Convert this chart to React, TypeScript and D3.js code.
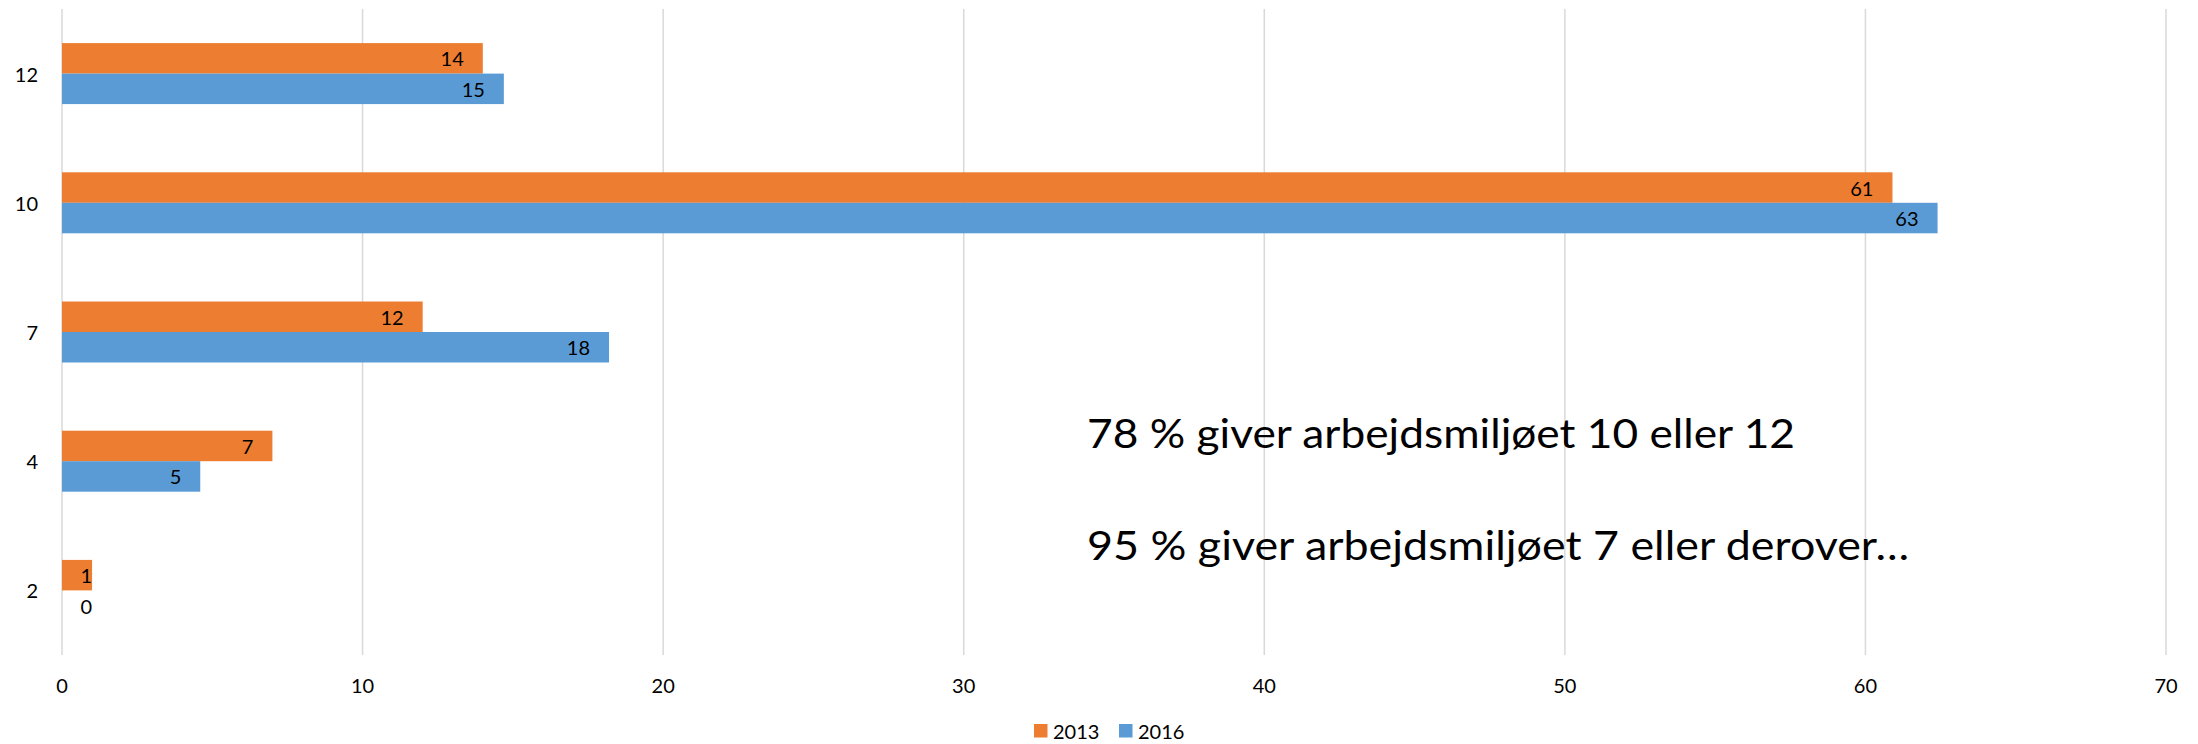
import * as d3 from "d3";
import React from "react";

// categories top to bottom, as in the chart
const categories = ["12", "10", "7", "4", "2"];
const seriesNames = ["2013", "2016"];
const values2013 = [14, 60.9, 12, 7, 1];
const values2016 = [14.7, 62.4, 18.2, 4.6, 0];
const labels2013 = ["14", "61", "12", "7", "1"];
const labels2016 = ["15", "63", "18", "5", "0"];
const xTicks = [0, 10, 20, 30, 40, 50, 60, 70];
const notes = ["78 % giver arbejdsmiljøet 10 eller 12", "95 % giver arbejdsmiljøet 7 eller derover…"];

const colors = ["#ED7D31", "#5B9BD5"];
const W = 2198;
const H = 744;
const font = "Lato, 'Open Sans', sans-serif";

export default function App() {
  const x = d3.scaleLinear().domain([0, 70]).range([62, 2166]);
  const y = d3.scaleBand().domain(categories).range([9, 655]).paddingInner(0.528).paddingOuter(0.264);
  const inner = d3.scaleBand().domain(seriesNames).range([0, y.bandwidth()]);

  const series = [
    { name: "2013", values: values2013, labels: labels2013 },
    { name: "2016", values: values2016, labels: labels2016 },
  ];

  return (
    <svg width={W} height={H} style={{ position: "absolute", left: 0, top: 0, background: "#fff" }} fontFamily={font}>
      {/* grid */}
      {xTicks.map((t) => (
        <line key={"g" + t} x1={x(t)} x2={x(t)} y1={9} y2={655} stroke="#d9d9d9" strokeWidth={1.5} />
      ))}
      {/* bars */}
      {series.map((s, si) =>
        categories.map((c, i) => {
          const yy = (y(c) as number) + (inner(s.name) as number);
          const end = x(s.values[i]);
          const lx = Math.max(end - 19, x(0) + 30);
          return (
            <g key={s.name + c}>
              <rect x={x(0)} y={yy} width={end - x(0)} height={inner.bandwidth()} fill={colors[si]} />
              <text x={lx} y={yy + inner.bandwidth() / 2} textAnchor="end" dominantBaseline="central" fontSize={20} fill="#000">
                {s.labels[i]}
              </text>
            </g>
          );
        })
      )}
      {/* y labels */}
      {categories.map((c) => (
        <text key={"y" + c} x={38} y={(y(c) as number) + y.bandwidth() / 2} textAnchor="end" dominantBaseline="central" fontSize={20}>
          {c}
        </text>
      ))}
      {/* x tick labels */}
      {xTicks.map((t) => (
        <text key={"t" + t} x={x(t)} y={685} textAnchor="middle" dominantBaseline="central" fontSize={20}>
          {t}
        </text>
      ))}
      {/* notes */}
      <text x={1087} y={448} fontSize={40} textLength={708} lengthAdjust="spacingAndGlyphs">{notes[0]}</text>
      <text x={1087} y={560} fontSize={40} textLength={822} lengthAdjust="spacingAndGlyphs">{notes[1]}</text>
      {/* legend */}
      {seriesNames.map((n, i) => (
        <g key={"l" + n} transform={`translate(${1034 + i * 85},724)`}>
          <rect width={13.5} height={13.5} fill={colors[i]} />
          <text x={19} y={7} dominantBaseline="central" fontSize={20}>{n}</text>
        </g>
      ))}
    </svg>
  );
}
